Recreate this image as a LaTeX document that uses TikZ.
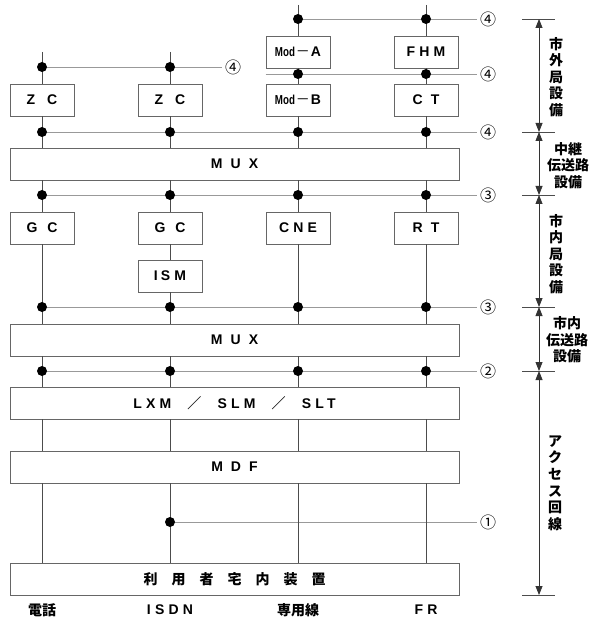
\documentclass[tikz,border=0pt]{standalone}
\usepackage{fontspec}
\setmainfont{Liberation Sans}
\newfontfamily\boxfont[LetterSpace=30]{Liberation Sans}
\newfontfamily\narrowfont[FakeStretch=0.75]{Liberation Sans}
\newfontfamily\cjk{Noto Sans CJK JP}
\usetikzlibrary{arrows.meta}
\newcommand{\modname}[1]{{\narrowfont\bfseries\fontsize{13}{14}\selectfont Mod}\kern1pt{\cjk\mdseries －}\kern1pt#1}

\begin{document}
\begin{tikzpicture}[x=1pt,y=-1pt,
		bx/.style={draw=black!60,fill=white,line width=.8pt,minimum width=64pt,minimum height=32pt,inner sep=0pt,
			font=\boxfont\bfseries\fontsize{14}{16}\selectfont},
		widebx/.style={bx,minimum width=449pt},
		vline/.style={black!70,line width=.8pt},
		tap/.style={black!40,line width=.8pt},
		num/.style={inner sep=3pt,font=\cjk\fontsize{16}{17}\selectfont},
		sidelbl/.style={align=center,inner sep=0pt,font=\cjk\bfseries\fontsize{14}{16.6}\selectfont},
		dimtick/.style={black!70,line width=.8pt},
		dimarr/.style={black!80,line width=.8pt,{Triangle[width=7pt,length=9pt]}-{Triangle[width=7pt,length=9pt]}},
		foot/.style={inner sep=0pt,font=\boxfont\bfseries\fontsize{14}{16}\selectfont}]
	\useasboundingbox (0,0) rectangle (592,620);
	% boxes
	\node[bx] (modA) at (298,52) {\modname{A}};
	\node[bx] (fhm) at (426,52) {FHM};
	\node[bx] (zc1) at (42,100) {Z\hspace{12pt}C};
	\node[bx] (zc2) at (170,100) {Z\hspace{12pt}C};
	\node[bx] (modB) at (298,100) {\modname{B}};
	\node[bx] (ct) at (426,100) {C T};
	\node[widebx] (mux1) at (234.5,164) {M U X};
	\node[bx] (gc1) at (42,228) {G\hspace{10pt}C};
	\node[bx] (gc2) at (170,228) {G\hspace{10pt}C};
	\node[bx] (cne) at (298,228) {CNE};
	\node[bx] (rt) at (426,228) {R T};
	\node[bx] (ism) at (170,276) {I\kern3pt SM};
	\node[widebx] (mux2) at (234.5,340) {M U X};
	\node[widebx] (lxm) at (234.5,403) {LXM\ \ {\cjk ／}\ \ SLM\ \ {\cjk ／}\ \ SLT};
	\node[widebx] (mdf) at (234.5,467) {M D F};
	\node[widebx] (home) at (234.5,579) {\cjk 利　用　者　宅　内　装　置};
	% tap points
	\coordinate (top1) at (42,52);
	\coordinate (top2) at (170,52);
	\coordinate (top3) at (298,5);
	\coordinate (top4) at (426,5);
	\coordinate (a3) at (298,19);
	\coordinate (a4) at (426,19);
	\coordinate (b1) at (42,67);
	\coordinate (b2) at (170,67);
	\coordinate (c3) at (298,74);
	\coordinate (c4) at (426,74);
	\coordinate (e1) at (42,132);
	\coordinate (e2) at (170,132);
	\coordinate (e3) at (298,132);
	\coordinate (e4) at (426,132);
	\coordinate (f1) at (42,195);
	\coordinate (f2) at (170,195);
	\coordinate (f3) at (298,195);
	\coordinate (f4) at (426,195);
	\coordinate (g1) at (42,307);
	\coordinate (g2) at (170,307);
	\coordinate (g3) at (298,307);
	\coordinate (g4) at (426,307);
	\coordinate (h1) at (42,371);
	\coordinate (h2) at (170,371);
	\coordinate (h3) at (298,371);
	\coordinate (h4) at (426,371);
	\coordinate (k2) at (170,522);
	% point numbers
	\node[num] (n4a) at (488,19) {④};
	\node[num] (n4b) at (488,74) {④};
	\node[num] (n4c) at (233,67) {④};
	\node[num] (n4d) at (488,132) {④};
	\node[num] (n3a) at (488,195) {③};
	\node[num] (n3b) at (488,307) {③};
	\node[num] (n2) at (488,371) {②};
	\node[num] (n1) at (488,522) {①};
	\draw[tap] (a3) -- (n4a);
	\draw[tap] (modA.south west |- c3) -- (n4b);
	\draw[tap] (b1) -- (n4c);
	\draw[tap] (e1) -- (n4d);
	\draw[tap] (f1) -- (n3a);
	\draw[tap] (g1) -- (n3b);
	\draw[tap] (h1) -- (n2);
	\draw[tap] (k2) -- (n1);
	% columns
	\draw[vline] (top1) -- (zc1);
	\draw[vline] (zc1) -- (zc1 |- mux1.north);
	\draw[vline] (gc1 |- mux1.south) -- (gc1);
	\draw[vline] (gc1) -- (gc1 |- mux2.north);
	\draw[vline] (top2) -- (zc2);
	\draw[vline] (zc2) -- (zc2 |- mux1.north);
	\draw[vline] (gc2 |- mux1.south) -- (gc2);
	\draw[vline] (gc2) -- (ism);
	\draw[vline] (ism) -- (ism |- mux2.north);
	\draw[vline] (top3) -- (modA);
	\draw[vline] (modA) -- (modB);
	\draw[vline] (modB) -- (modB |- mux1.north);
	\draw[vline] (cne |- mux1.south) -- (cne);
	\draw[vline] (cne) -- (cne |- mux2.north);
	\draw[vline] (top4) -- (fhm);
	\draw[vline] (fhm) -- (ct);
	\draw[vline] (ct) -- (ct |- mux1.north);
	\draw[vline] (rt |- mux1.south) -- (rt);
	\draw[vline] (rt) -- (rt |- mux2.north);
	\draw[vline] (gc1 |- mux2.south) -- (gc1 |- lxm.north) (gc1 |- lxm.south) -- (gc1 |- mdf.north)
		(gc1 |- mdf.south) -- (gc1 |- home.north);
	\draw[vline] (gc2 |- mux2.south) -- (gc2 |- lxm.north) (gc2 |- lxm.south) -- (gc2 |- mdf.north)
		(gc2 |- mdf.south) -- (gc2 |- home.north);
	\draw[vline] (cne |- mux2.south) -- (cne |- lxm.north) (cne |- lxm.south) -- (cne |- mdf.north)
		(cne |- mdf.south) -- (cne |- home.north);
	\draw[vline] (rt |- mux2.south) -- (rt |- lxm.north) (rt |- lxm.south) -- (rt |- mdf.north)
		(rt |- mdf.south) -- (rt |- home.north);
	% dots
	\fill (a3) circle (5pt) (a4) circle (5pt) (b1) circle (5pt) (b2) circle (5pt)
		(c3) circle (5pt) (c4) circle (5pt);
	\fill (e1) circle (5pt) (e2) circle (5pt) (e3) circle (5pt) (e4) circle (5pt);
	\fill (f1) circle (5pt) (f2) circle (5pt) (f3) circle (5pt) (f4) circle (5pt);
	\fill (g1) circle (5pt) (g2) circle (5pt) (g3) circle (5pt) (g4) circle (5pt);
	\fill (h1) circle (5pt) (h2) circle (5pt) (h3) circle (5pt) (h4) circle (5pt);
	\fill (k2) circle (5pt);
	% right side ranges
	\coordinate (s0) at (539,19);
	\coordinate (s1) at (539,132);
	\coordinate (s2) at (539,195);
	\coordinate (s3) at (539,307);
	\coordinate (s4) at (539,371);
	\coordinate (s5) at (539,595);
	\draw[dimtick] ([xshift=-17pt]s0) -- ([xshift=16pt]s0) ([xshift=-17pt]s1) -- ([xshift=16pt]s1)
		([xshift=-17pt]s2) -- ([xshift=16pt]s2) ([xshift=-17pt]s3) -- ([xshift=16pt]s3)
		([xshift=-17pt]s4) -- ([xshift=16pt]s4) ([xshift=-17pt]s5) -- ([xshift=16pt]s5);
	\draw[dimarr] (s0) -- (s1);
	\draw[dimarr] (s1) -- (s2);
	\draw[dimarr] (s2) -- (s3);
	\draw[dimarr] (s3) -- (s4);
	\draw[dimarr] (s4) -- (s5);
	\node[sidelbl] (r1) at (556,77) {市\\外\\局\\設\\備};
	\node[sidelbl] (r2) at (568,165.5) {中継\\伝送路\\設備};
	\node[sidelbl] (r3) at (556,254) {市\\内\\局\\設\\備};
	\node[sidelbl] (r4) at (567,340) {市内\\伝送路\\設備};
	\node[sidelbl] (r5) at (555,483) {ア\\ク\\セ\\ス\\回\\線};
	% bottom names
	\node[foot] (ft1) at (42,610) {\cjk 電話};
	\node[foot] (ft2) at (170,610) {ISDN};
	\node[foot] (ft3) at (298,610) {\cjk 専用線};
	\node[foot] (ft4) at (426,610) {FR};
\end{tikzpicture}
\end{document}
